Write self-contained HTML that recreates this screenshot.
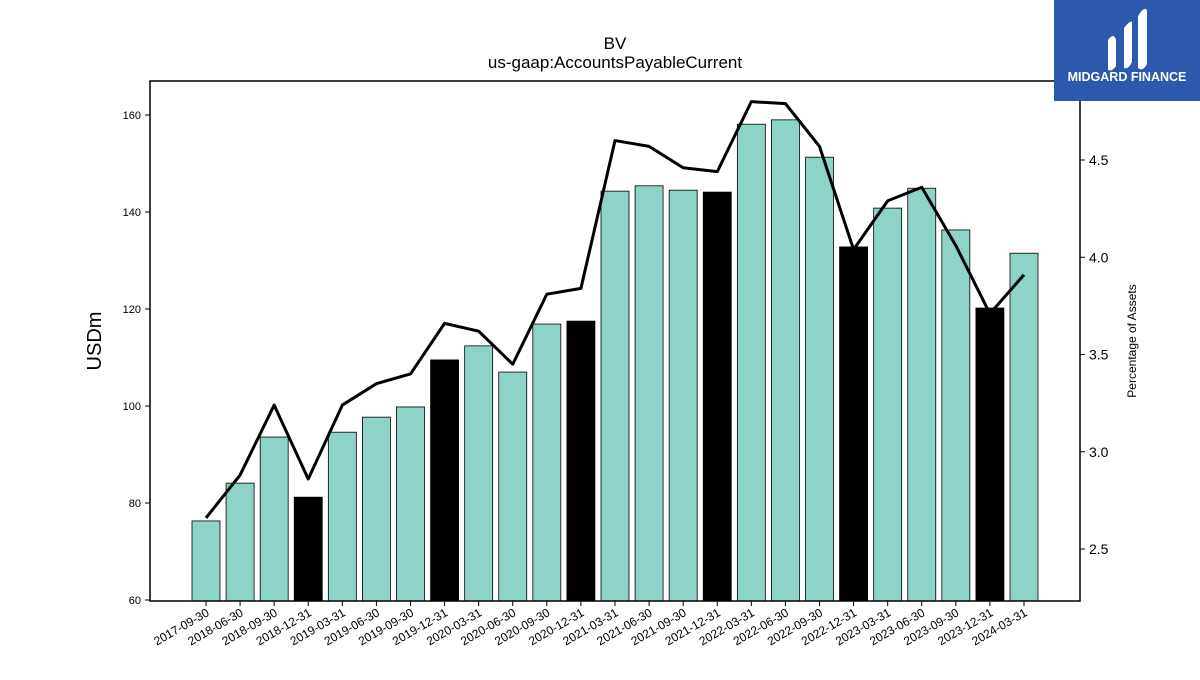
<!DOCTYPE html>
<html><head><meta charset="utf-8"><style>
body{margin:0;background:#fff;font-family:"Liberation Sans","DejaVu Sans",sans-serif}
</style></head><body>
<svg width="1200" height="675" xmlns="http://www.w3.org/2000/svg" id="svg">
<text x="615" y="49" text-anchor="middle" font-size="17">BV</text>
<text x="615" y="68" text-anchor="middle" font-size="17">us-gaap:AccountsPayableCurrent</text>
<text transform="translate(101,341) rotate(-90)" text-anchor="middle" font-size="20">USDm</text>
<text transform="translate(1136,341) rotate(-90)" text-anchor="middle" font-size="12">Percentage of Assets</text>
<g id="bars"></g>
<g id="line"></g>
<g id="axes"></g>
<rect x="150" y="81" width="930" height="520" fill="none" stroke="#000" stroke-width="1.5"/>
<g>
<rect x="1054" y="0" width="146" height="101" fill="#2b5aac"/>
<path d="M1108 40 q6-8 8 0 v26 q-4 6-8 4z M1124 28 q6-8 8-6 v40 q-4 8-8 6z M1138 16 q6-10 9-6 v54 q-4 8-9 4z" fill="#fff"/>
<text x="1127" y="81" text-anchor="middle" font-size="12.5" font-weight="bold" fill="#fff">MIDGARD FINANCE</text>
</g>
</svg>
<script>
const categories=["2017-09-30","2018-06-30","2018-09-30","2018-12-31","2019-03-31","2019-06-30","2019-09-30","2019-12-31","2020-03-31","2020-06-30","2020-09-30","2020-12-31","2021-03-31","2021-06-30","2021-09-30","2021-12-31","2022-03-31","2022-06-30","2022-09-30","2022-12-31","2023-03-31","2023-06-30","2023-09-30","2023-12-31","2024-03-31"];
const barValues=[76.3,84.1,93.6,81.2,94.6,97.7,99.8,109.5,112.4,107.0,116.9,117.5,144.3,145.4,144.5,144.1,158.1,159.0,151.3,132.8,140.8,144.9,136.3,120.2,131.5];
const pctValues=[2.66,2.88,3.24,2.86,3.24,3.35,3.40,3.66,3.62,3.45,3.81,3.84,4.60,4.57,4.46,4.44,4.80,4.79,4.57,4.04,4.29,4.36,4.06,3.71,3.91];
const leftTicks=[60,80,100,120,140,160];
const rightTicks=[2.5,3.0,3.5,4.0,4.5];
const NS="http://www.w3.org/2000/svg";
const X0=150,X1=1080,Y0=81,Y1=601;
const yL=v=>600-(v-60)*4.85;
const yR=v=>160+(4.5-v)*194.5;
const step=(X1-X0)/(categories.length+0.33);
const xC=i=>206+i*((1024-206)/(categories.length-1));
function mk(t,a,p){const e=document.createElementNS(NS,t);for(const k in a)e.setAttribute(k,a[k]);p.appendChild(e);return e;}
const bars=document.getElementById('bars'),axes=document.getElementById('axes'),line=document.getElementById('line');
categories.forEach((c,i)=>{
 const black=c.endsWith('12-31');
 const r=mk('rect',{x:xC(i)-14,y:yL(barValues[i]),width:28,height:Y1-yL(barValues[i]),fill:black?'#000':'#8dd3c7',stroke:'#000','stroke-width':0.8},bars);
 
 
 mk('line',{x1:xC(i),x2:xC(i),y1:Y1,y2:Y1+5,stroke:'#000'},axes);
 const t=mk('text',{transform:`translate(${xC(i)+4},${Y1+14}) rotate(-30)`,'text-anchor':'end','font-size':12},axes);
 t.textContent=c;
 
 
});
const pts=pctValues.map((v,i)=>xC(i)+','+yR(v)).join(' ');
const pl=mk('polyline',{points:pts,fill:'none',stroke:'#000','stroke-width':3,'stroke-linejoin':'round'},line);


leftTicks.forEach(v=>{
 mk('line',{x1:X0-5,x2:X0,y1:yL(v),y2:yL(v),stroke:'#000'},axes);
 const t=mk('text',{x:X0-9,y:yL(v)+4,'text-anchor':'end','font-size':11},axes);
 t.textContent=v;
 
 
});
rightTicks.forEach(v=>{
 mk('line',{x1:X1,x2:X1+5,y1:yR(v),y2:yR(v),stroke:'#000'},axes);
 const t=mk('text',{x:X1+9,y:yR(v)+5,'font-size':14},axes);
 t.textContent=v.toFixed(1);
 
 
});
</script>
</body></html>
